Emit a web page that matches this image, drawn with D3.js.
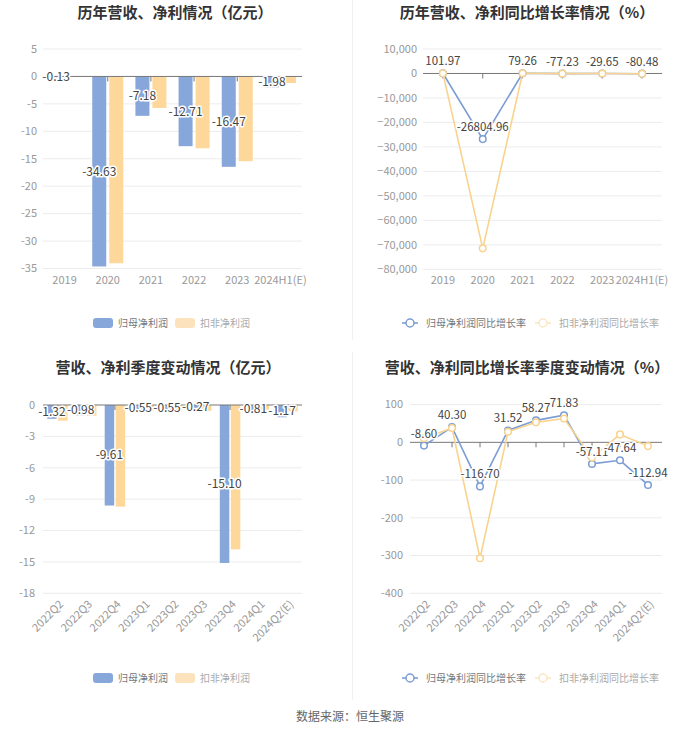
<!DOCTYPE html>
<html><head><meta charset="utf-8">
<script src="https://cdn.jsdelivr.net/npm/d3@7/dist/d3.min.js"></script>
<style>
html,body{margin:0;padding:0;background:#fff;}
svg{display:block;font-family:"Noto Sans CJK SC","Noto Sans",sans-serif;}
</style></head>
<body>
<svg id="c" width="700" height="734"></svg>
<script>
// ---------- data ----------
const yearCats = ["2019","2020","2021","2022","2023","2024H1(E)"];
const yearNet = [-0.13,-34.63,-7.18,-12.71,-16.47,-1.98];
const yearDeducted = [-0.1,-34.05,-5.75,-13.09,-15.45,-1.2];
const yearNetGrowth = [101.97,-26804.96,79.26,-77.23,-29.65,-80.48];
const yearDeductedGrowth = [60,-71450,85,-80,-20,-90];
const yearBarTicks = [5,0,-5,-10,-15,-20,-25,-30,-35];
const yearGrowthTicks = [10000,0,-10000,-20000,-30000,-40000,-50000,-60000,-70000,-80000];

const qCats = ["2022Q2","2022Q3","2022Q4","2023Q1","2023Q2","2023Q3","2023Q4","2024Q1","2024Q2(E)"];
const qNet = [-1.32,-0.98,-9.61,-0.55,-0.55,-0.27,-15.10,-0.81,-1.17];
const qDeducted = [-1.5,-1.02,-9.72,-0.57,-0.5,-0.55,-13.8,-0.45,-0.6];
const qNetGrowth = [-8.60,40.30,-116.70,31.52,58.27,71.83,-57.11,-47.64,-112.94];
const qDeductedGrowth = [11,38,-307,28,53,63,-40,21,-10];
const qBarTicks = [0,-3,-6,-9,-12,-15,-18];
const qGrowthTicks = [100,0,-100,-200,-300,-400];

const titles = ["历年营收、净利情况（亿元）","历年营收、净利同比增长率情况（%）","营收、净利季度变动情况（亿元）","营收、净利同比增长率季度变动情况（%）"];
const barLegend = ["归母净利润","扣非净利润"];
const lineLegend = ["归母净利润同比增长率","扣非净利润同比增长率"];
const source = "数据来源：恒生聚源";

const BLUE = "#87a7db", ORANGE = "#fed89a";
const LBLUE = "#7b9dd4", LORANGE = "#f9d38e";

const svg = d3.select("#c");

// dividers
svg.append("line").attr("x1",352.5).attr("x2",352.5).attr("y1",0).attr("y2",340).attr("stroke","#f0f0f0");
svg.append("line").attr("x1",352.5).attr("x2",352.5).attr("y1",352).attr("y2",700).attr("stroke","#f0f0f0");

function title(t, cx, y){
  svg.append("text").attr("x",cx).attr("y",y).attr("text-anchor","middle")
    .attr("font-size",15).attr("font-weight","bold").attr("fill","#333").text(t);
}
function halo(sel){
  return sel.attr("stroke","#fff").attr("stroke-width",3).attr("paint-order","stroke").attr("stroke-linejoin","round");
}

function axes(g, x, y, ticks, fmt, cats, rotate, yx){
  const [x0,x1] = x.range();
  g.selectAll(".grid").data(ticks.filter(t=>t!==0)).enter().append("line")
    .attr("x1",x0).attr("x2",x1).attr("y1",d=>y(d)).attr("y2",d=>y(d)).attr("stroke","#ececec");
  g.selectAll(".yl").data(ticks).enter().append("text")
    .attr("x",x0-yx).attr("y",d=>y(d)).attr("dy","0.35em").attr("text-anchor","end")
    .attr("font-size",11).attr("fill","#999").text(fmt);
  const bottom = y.range()[0];
  cats.forEach(c=>{
    const cx = x(c)+x.bandwidth()/2;
    if(rotate){
      g.append("text").attr("transform",`translate(${cx+4},${bottom+9}) rotate(-45)`)
        .attr("text-anchor","end").attr("dy","0.35em").attr("font-size",11).attr("fill","#999").text(c);
    } else {
      g.append("text").attr("x",cx).attr("y",bottom+15).attr("text-anchor","middle")
        .attr("font-size",11).attr("fill","#999").text(c);
    }
  });
}
function zeroAxis(g, x, y, cats){
  const [x0,x1] = x.range();
  g.append("line").attr("x1",x0).attr("x2",x1).attr("y1",y(0)).attr("y2",y(0)).attr("stroke","#777");
  cats.forEach(c=>{
    const cx = x(c)+x.bandwidth()/2;
    g.append("line").attr("x1",cx).attr("x2",cx).attr("y1",y(0)).attr("y2",y(0)+5).attr("stroke","#777");
  });
}

function barChart(cats, a, b, ticks, xr, yr, barW, gap, rotate, yx){
  const g = svg.append("g");
  const x = d3.scaleBand().domain(cats).range(xr).padding(0);
  const y = d3.scaleLinear().domain([ticks[ticks.length-1], ticks[0]]).range(yr);
  axes(g, x, y, ticks, d=>d, cats, rotate, yx);
  const cx = c => x(c)+x.bandwidth()/2;
  g.selectAll(".ba").data(cats).enter().append("rect")
    .attr("x",c=>cx(c)-gap/2-barW).attr("width",barW)
    .attr("y",(c,i)=>Math.min(y(0),y(a[i]))).attr("height",(c,i)=>Math.abs(y(a[i])-y(0)))
    .attr("fill",BLUE);
  g.selectAll(".bb").data(cats).enter().append("rect")
    .attr("x",c=>cx(c)+gap/2).attr("width",barW)
    .attr("y",(c,i)=>Math.min(y(0),y(b[i]))).attr("height",(c,i)=>Math.abs(y(b[i])-y(0)))
    .attr("fill",ORANGE);
  zeroAxis(g, x, y, cats);
  cats.forEach((c,i)=>{
    halo(g.append("text").attr("x",cx(c)-gap/2-barW/2).attr("y",(y(0)+y(a[i]))/2).attr("dy","0.35em")
      .attr("text-anchor","middle").attr("font-size",12).attr("fill","#444").text(a[i].toFixed(2)));
  });
}

function lineChart(cats, a, b, ticks, xr, yr, fmt, rotate, yx){
  const g = svg.append("g");
  const x = d3.scaleBand().domain(cats).range(xr).padding(0);
  const y = d3.scaleLinear().domain([ticks[ticks.length-1], ticks[0]]).range(yr);
  axes(g, x, y, ticks, fmt, cats, rotate, yx);
  zeroAxis(g, x, y, cats);
  const cx = c => x(c)+x.bandwidth()/2;
  [[a,LBLUE],[b,LORANGE]].forEach(([vals,col])=>{
    const line = d3.line().x((d,i)=>cx(cats[i])).y(d=>y(d));
    g.append("path").attr("d",line(vals)).attr("fill","none").attr("stroke",col).attr("stroke-width",1.6);
    g.selectAll(null).data(vals).enter().append("circle")
      .attr("cx",(d,i)=>cx(cats[i])).attr("cy",d=>y(d)).attr("r",3.3)
      .attr("fill","#fff").attr("stroke",col).attr("stroke-width",1.5);
  });
  a.forEach((v,i)=>{
    halo(g.append("text").attr("x",cx(cats[i])).attr("y",y(v)-12).attr("dy","0.35em")
      .attr("text-anchor","middle").attr("font-size",11.5).attr("fill","#444").text(v.toFixed(2)));
  });
}

function barLegendAt(y, x0){
  const g = svg.append("g");
  g.append("rect").attr("x",x0).attr("y",y-5).attr("width",20).attr("height",10).attr("rx",3).attr("fill",BLUE);
  g.append("text").attr("x",x0+25).attr("y",y).attr("dy","0.35em").attr("font-size",10).attr("fill","#777").text(barLegend[0]);
  g.append("rect").attr("x",x0+82).attr("y",y-5).attr("width",20).attr("height",10).attr("rx",3).attr("fill","#fde3bd");
  g.append("text").attr("x",x0+107).attr("y",y).attr("dy","0.35em").attr("font-size",10).attr("fill","#aaa").text(barLegend[1]);
}
function lineLegendAt(y, x0){
  const g = svg.append("g");
  const items = [[x0,LBLUE,"#777"],[x0+133,"#fce6c2","#aaa"]];
  items.forEach(([xx,col,tc],i)=>{
    g.append("line").attr("x1",xx).attr("x2",xx+16).attr("y1",y).attr("y2",y).attr("stroke",col).attr("stroke-width",1.6);
    g.append("circle").attr("cx",xx+8).attr("cy",y).attr("r",4).attr("fill","#fff").attr("stroke",col).attr("stroke-width",1.5);
    g.append("text").attr("x",xx+24).attr("y",y).attr("dy","0.35em").attr("font-size",10).attr("fill",tc).text(lineLegend[i]);
  });
}

title(titles[0],175,18);
title(titles[1],527,18);
title(titles[2],168,373);
title(titles[3],527,373);

barChart(yearCats, yearNet, yearDeducted, yearBarTicks, [43,302], [268.5,49], 14, 3, false, 6);
lineChart(yearCats, yearNetGrowth, yearDeductedGrowth, yearGrowthTicks, [423,662], [269.3,49], d3.format(","), false, 6);
barChart(qCats, qNet, qDeducted, qBarTicks, [43,302], [593.3,405], 9.5, 1.5, true, 8);
lineChart(qCats, qNetGrowth, qDeductedGrowth, qGrowthTicks, [410,662], [593.3,404.6], d=>d, true, 7);

barLegendAt(323, 93);
lineLegendAt(323, 402);
barLegendAt(678, 93);
lineLegendAt(678, 402);

svg.append("text").attr("x",350).attr("y",717).attr("dy","0.35em").attr("text-anchor","middle")
  .attr("font-size",12).attr("fill","#666").text(source);
</script>
</body></html>
